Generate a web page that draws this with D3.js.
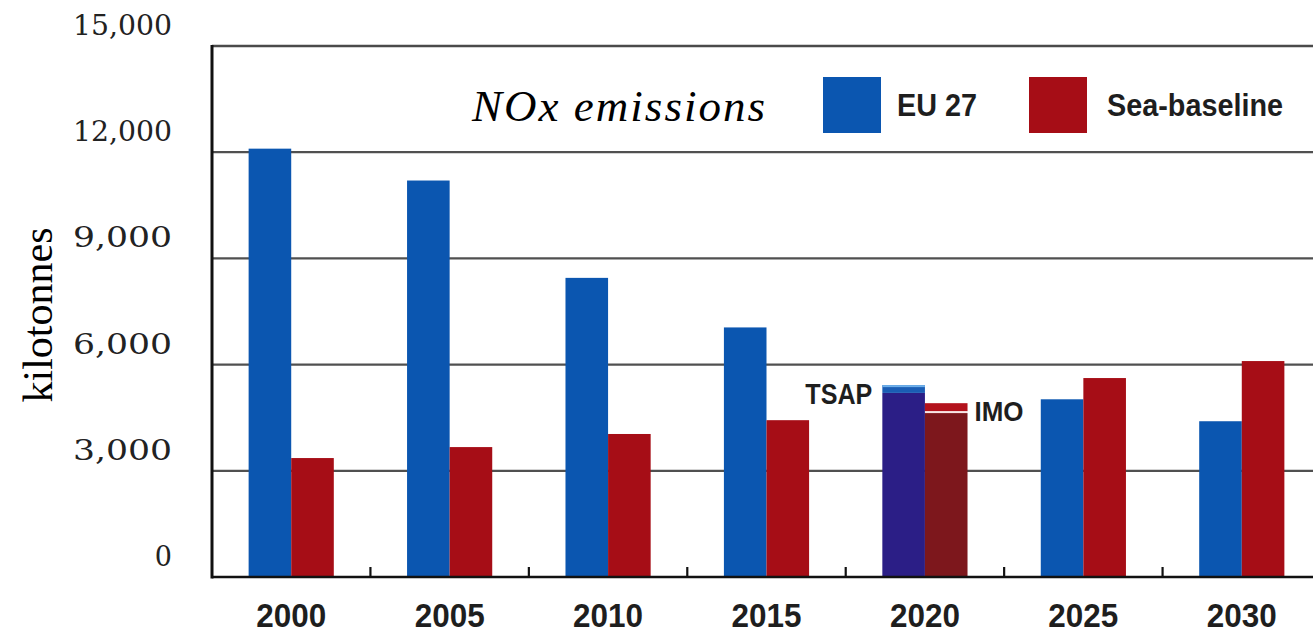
<!DOCTYPE html>
<html>
<head>
<meta charset="utf-8">
<script src="https://cdn.jsdelivr.net/npm/d3@7"></script>
<style>
  html, body { margin: 0; padding: 0; background: #ffffff; }
  svg { display: block; }
</style>
</head>
<body>
<svg id="chart" width="1313" height="634"></svg>
<script>
// NOx emissions, kilotonnes: EU 27 land-based vs sea-baseline projections
const years = [2000, 2005, 2010, 2015, 2020, 2025, 2030];
const eu27 = [12100, 11200, 8450, 7050, 5200, 5020, 4400];
const seaBaseline = [3360, 3670, 4040, 4430, 4630, 5620, 6100];
// 2020 scenario caps drawn on top of the 2020 bars
const tsap2020 = 5420;
const imo2020 = 4910;
const yTicks = [0, 3000, 6000, 9000, 12000, 15000];
const seriesKeys = ["EU 27", "Sea-baseline"];

const W = 1313, H = 634;
const svg = d3.select("#chart");

const x = d3.scaleBand().domain(years).range([212, 1321]).padding(0);
const xInner = d3.scaleBand().domain(seriesKeys)
  .range([0, x.bandwidth()]).paddingInner(0).paddingOuter(0.86);
const y = d3.scaleLinear().domain([0, 15000]).range([577, 46]);

const colors = { "EU 27": "#0b56b0", "Sea-baseline": "#a60d16" };
const colors2020 = { "EU 27": "#2b1e86", "Sea-baseline": "#7d171c" };

// horizontal gridlines (under the bars)
svg.append("g").selectAll("line")
  .data(yTicks.filter(d => d > 0 && d < 15000))
  .join("line")
  .attr("x1", x.range()[0]).attr("x2", W)
  .attr("y1", d => y(d)).attr("y2", d => y(d))
  .attr("stroke", "#505050").attr("stroke-width", 2.2);

// top frame line at 15,000
svg.append("line")
  .attr("x1", x.range()[0]).attr("x2", W)
  .attr("y1", y(15000)).attr("y2", y(15000))
  .attr("stroke", "#4a4a4a").attr("stroke-width", 2.4);

// bars
const rows = years.map((yr, i) => ({ year: yr, values: [
  { key: "EU 27", value: eu27[i] },
  { key: "Sea-baseline", value: seaBaseline[i] }
]}));

const groups = svg.append("g").selectAll("g")
  .data(rows).join("g")
  .attr("transform", d => `translate(${x(d.year)},0)`);

groups.selectAll("rect")
  .data(d => d.values.map(v => ({ ...v, year: d.year })))
  .join("rect")
  .attr("x", d => xInner(d.key))
  .attr("width", xInner.bandwidth())
  .attr("y", d => y(d.value))
  .attr("height", d => y(0) - y(d.value))
  .attr("fill", d => d.year === 2020 ? colors2020[d.key] : colors[d.key]);

// 2020 scenario caps: TSAP over EU 27, IMO over sea-baseline
const g2020 = svg.append("g").attr("transform", `translate(${x(2020)},0)`);
const bw = xInner.bandwidth();
const idx2020 = years.indexOf(2020);
g2020.append("rect")
  .attr("x", xInner("EU 27")).attr("width", bw)
  .attr("y", y(tsap2020)).attr("height", y(eu27[idx2020]) - y(tsap2020))
  .attr("fill", "#1a5db4");
g2020.append("rect")
  .attr("x", xInner("EU 27")).attr("width", bw)
  .attr("y", y(tsap2020)).attr("height", 2)
  .attr("fill", "#6fb0ea");
g2020.append("rect")
  .attr("x", xInner("Sea-baseline")).attr("width", bw)
  .attr("y", y(imo2020)).attr("height", y(seaBaseline[idx2020]) - y(imo2020) - 2)
  .attr("fill", "#b3121c");
g2020.append("rect")
  .attr("x", xInner("Sea-baseline")).attr("width", bw)
  .attr("y", y(seaBaseline[idx2020]) - 2).attr("height", 1.5)
  .attr("fill", "#f3d6d6");

const condensed = "'Liberation Sans', Arial, sans-serif";

g2020.append("text")
  .attr("x", xInner("EU 27") - 10).attr("y", y(tsap2020) + 19)
  .attr("text-anchor", "end")
  .attr("font-family", condensed).attr("font-weight", "bold")
  .attr("font-size", 30).attr("fill", "#1e1e1e")
  .attr("textLength", 67).attr("lengthAdjust", "spacingAndGlyphs")
  .text("TSAP");
g2020.append("text")
  .attr("x", xInner("Sea-baseline") + bw + 7).attr("y", y(imo2020) + 18)
  .attr("text-anchor", "start")
  .attr("font-family", condensed).attr("font-weight", "bold")
  .attr("font-size", 28).attr("fill", "#1e1e1e")
  .attr("textLength", 49).attr("lengthAdjust", "spacingAndGlyphs")
  .text("IMO");

// left axis line
svg.append("line")
  .attr("x1", x.range()[0]).attr("x2", x.range()[0])
  .attr("y1", y(15000) - 1).attr("y2", y(0) + 1.5)
  .attr("stroke", "#111").attr("stroke-width", 3);

// baseline and small upward ticks between year groups
svg.append("line")
  .attr("x1", x.range()[0]).attr("x2", W)
  .attr("y1", y(0)).attr("y2", y(0))
  .attr("stroke", "#111").attr("stroke-width", 2.6);
svg.append("g").selectAll("line")
  .data(years.slice(0, -1))
  .join("line")
  .attr("x1", d => x(d) + x.bandwidth()).attr("x2", d => x(d) + x.bandwidth())
  .attr("y1", y(0)).attr("y2", y(0) - 10)
  .attr("stroke", "#111").attr("stroke-width", 2.2);

// y tick labels, sitting above their gridlines
const fmt = d3.format(",");
svg.append("g").selectAll("text")
  .data(yTicks).join("text")
  .attr("x", 172).attr("y", d => y(d) - 11)
  .attr("text-anchor", "end")
  .attr("font-family", "'DejaVu Serif', serif")
  .attr("font-size", 27).attr("fill", "#222")
  .attr("textLength", d => d === 0 ? null : 99)
  .attr("lengthAdjust", "spacingAndGlyphs")
  .text(d => fmt(d));

// x labels
svg.append("g").selectAll("text")
  .data(years).join("text")
  .attr("x", d => x(d) + x.bandwidth() / 2).attr("y", 627)
  .attr("text-anchor", "middle")
  .attr("font-family", condensed).attr("font-weight", "bold")
  .attr("font-size", 33).attr("fill", "#1e1e1e")
  .attr("textLength", 70).attr("lengthAdjust", "spacingAndGlyphs")
  .text(d => d);

// y axis title
svg.append("text")
  .attr("transform", "translate(52,315) rotate(-90)")
  .attr("text-anchor", "middle")
  .attr("font-family", "'Liberation Serif', 'Times New Roman', serif")
  .attr("font-size", 42).attr("fill", "#000")
  .text("kilotonnes");

// chart title
svg.append("text")
  .attr("x", 472).attr("y", 121)
  .attr("font-family", "'Liberation Serif', 'Times New Roman', serif")
  .attr("font-style", "italic")
  .attr("font-size", 45).attr("fill", "#000")
  .attr("textLength", 293).attr("lengthAdjust", "spacing")
  .text("NOx emissions");

// legend
const legend = svg.append("g");
const legendItems = [
  { key: "EU 27", sx: 823, tx: 897, tl: 80 },
  { key: "Sea-baseline", sx: 1029, tx: 1107, tl: 176 }
];
legend.selectAll("rect")
  .data(legendItems).join("rect")
  .attr("x", d => d.sx).attr("y", 77)
  .attr("width", 58).attr("height", 56)
  .attr("fill", d => colors[d.key]);
legend.selectAll("text")
  .data(legendItems).join("text")
  .attr("x", d => d.tx).attr("y", 116)
  .attr("font-family", condensed).attr("font-weight", "bold")
  .attr("font-size", 31).attr("fill", "#1e1e1e")
  .attr("textLength", d => d.tl).attr("lengthAdjust", "spacingAndGlyphs")
  .text(d => d.key);
</script>
</body>
</html>
